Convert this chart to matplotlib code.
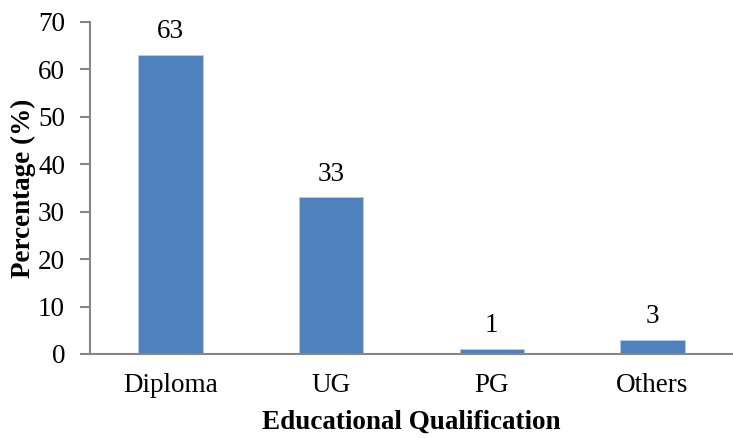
import matplotlib.pyplot as plt
import numpy as np

categories = ['Diploma', 'UG', 'PG', 'Others']
values = [63, 33, 1, 3]

plt.rcParams['font.family'] = 'Liberation Serif'

fig = plt.figure(figsize=(7.33, 4.38), dpi=100)
ax = fig.add_axes([0.1228, 0.1918, 0.877, 0.758])

x = np.arange(len(categories))
ax.bar(x, values, width=0.4, color='#4F81BD', edgecolor='#B9CDE5', linewidth=0.6, zorder=2)

for xi, v in zip(x, values):
    ax.text(xi, v + 2.3, str(v), ha='center', va='bottom', fontsize=19.5)

ax.set_xlim(-0.5, 3.5)
ax.set_ylim(0, 70)
ax.set_yticks(range(0, 71, 10))
ax.set_xticks(x)
ax.set_xticklabels(categories)

for s in ['top', 'right']:
    ax.spines[s].set_visible(False)
for s in ['left', 'bottom']:
    ax.spines[s].set_color('#868686')
    ax.spines[s].set_linewidth(1.5)

ax.tick_params(axis='y', direction='out', length=7, width=1.5, color='#868686',
               labelsize=19.5, pad=11)
ax.tick_params(axis='x', length=0, labelsize=19.5, pad=14)

ax.set_xlabel('Educational Qualification', fontsize=19.5, fontweight='bold', labelpad=8)
ax.set_ylabel('Percentage (%)', fontsize=19.5, fontweight='bold', labelpad=1)

fig.savefig('out.png', dpi=100)
